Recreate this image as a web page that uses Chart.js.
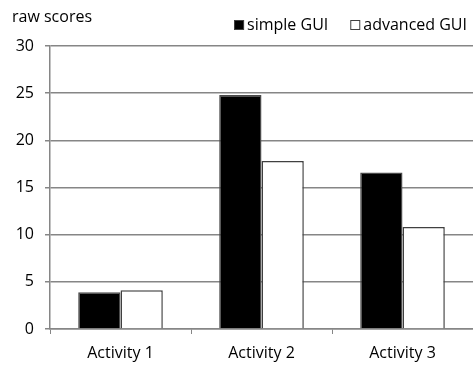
<!DOCTYPE html>
<html>
<head>
<meta charset="utf-8">
<script src="https://cdn.jsdelivr.net/npm/chart.js@4/dist/chart.umd.min.js"></script>
<style>
  html, body { margin: 0; padding: 0; background: #fff; }
  #wrap { position: relative; width: 473px; height: 367px; }
</style>
</head>
<body>
<div id="wrap"><canvas id="c" width="473" height="367"></canvas></div>
<script>
const categories = ['Activity 1', 'Activity 2', 'Activity 3'];
const seriesNames = ['simple GUI', 'advanced GUI'];
const simpleScores = [3.9, 24.8, 16.6];
const advancedScores = [4.1, 17.8, 10.8];
const axisTitle = 'raw scores';

const FONT = '"Open Sans", sans-serif';
const FONT_SIZE = 16;
const TEXT = '#000000';
const GRID = '#868686';

// Axis caption at top-left and a legend row at top-right
const headerPlugin = {
  id: 'header',
  afterDraw(chart) {
    const ctx = chart.ctx;
    ctx.save();
    ctx.font = FONT_SIZE + 'px ' + FONT;
    ctx.fillStyle = TEXT;
    ctx.textBaseline = 'middle';
    ctx.textAlign = 'left';
    ctx.fillText(axisTitle, 12, 17);

    const sets = chart.data.datasets;
    const box = 10, gapBox = 3, gapItem = 22;
    const widths = sets.map(d => ctx.measureText(d.label).width);
    let total = 0;
    sets.forEach((d, i) => { total += box + gapBox + widths[i]; if (i) total += gapItem; });
    let x = 467 - total;
    const cy = 25;
    sets.forEach((d, i) => {
      ctx.fillStyle = d.backgroundColor;
      ctx.fillRect(x, cy - box / 2, box, box);
      ctx.strokeStyle = '#404040';
      ctx.lineWidth = 1;
      ctx.strokeRect(x + 0.5, cy - box / 2 + 0.5, box - 1, box - 1);
      ctx.fillStyle = TEXT;
      ctx.fillText(d.label, x + box + gapBox, cy);
      x += box + gapBox + widths[i] + gapItem;
    });
    ctx.restore();
  }
};

new Chart(document.getElementById('c'), {
  type: 'bar',
  data: {
    labels: categories,
    datasets: [
      { label: seriesNames[0], data: simpleScores, backgroundColor: '#000000', borderColor: '#4a4a4a', borderWidth: 1.5 },
      { label: seriesNames[1], data: advancedScores, backgroundColor: '#ffffff', borderColor: '#404040', borderWidth: 1.5 }
    ]
  },
  options: {
    responsive: false,
    animation: false,
    devicePixelRatio: 1,
    layout: { padding: { top: 46, left: 0, right: 0, bottom: 0 } },
    plugins: { legend: { display: false }, title: { display: false }, tooltip: { enabled: false } },
    datasets: { bar: { categoryPercentage: 0.6, barPercentage: 1.0 } },
    scales: {
      x: {
        offset: true,
        grid: { display: true, drawOnChartArea: false, drawTicks: true, tickLength: 5, color: GRID, offset: true },
        border: { display: true, color: GRID, width: 1.5 },
        ticks: { color: TEXT, font: { family: FONT, size: FONT_SIZE }, padding: 10, maxRotation: 0 },
        afterFit(s) { s.height = 38; }
      },
      y: {
        min: 0, max: 30,
        ticks: { stepSize: 5, color: TEXT, font: { family: FONT, size: FONT_SIZE }, padding: 11 },
        grid: { color: GRID, lineWidth: 1.5, tickLength: 5, drawTicks: true },
        border: { display: true, color: GRID, width: 1.5 },
        afterFit(s) { s.width = 50; }
      }
    }
  },
  plugins: [headerPlugin]
});
</script>
</body>
</html>
